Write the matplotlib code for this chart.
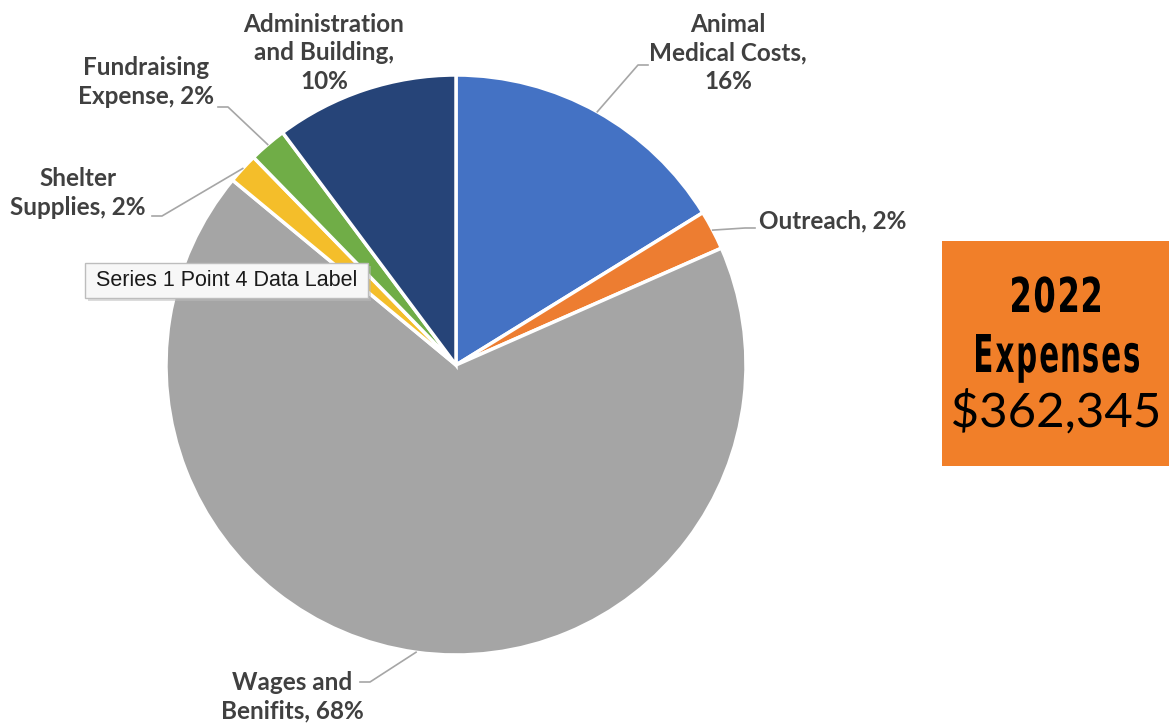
import numpy as np
import matplotlib.pyplot as plt
from matplotlib.patches import Rectangle, PathPatch
from matplotlib.textpath import TextPath
from matplotlib.font_manager import FontProperties
from matplotlib.path import Path
from matplotlib.transforms import Affine2D

# Données (parts en %)
categories = ['Animal\nMedical Costs', 'Outreach', 'Wages and\nBenifits',
              'Shelter\nSupplies', 'Fundraising\nExpense', 'Administration\nand Building']
shares = [16.2, 2.2, 67.6, 1.7, 2.1, 10.2]
colors = ['#4472C4', '#ED7D31', '#A5A5A5', '#F4BE2A', '#70AD47', '#264478']
total_title = ['2022', 'Expenses']
total_amount = '$362,345'

W, H = 1169, 727
fig = plt.figure(figsize=(W / 100, H / 100), dpi=100)
ax = fig.add_axes([0, 0, 1, 1])

cx, cy, r = 456, H - 365, 290
wedges, _ = ax.pie(shares, colors=colors, startangle=90, counterclock=False,
                   center=(cx, cy), radius=r, frame=True,
                   wedgeprops=dict(edgecolor='white', linewidth=2.5))
ax.set_xlim(0, W)
ax.set_ylim(0, H)
ax.set_aspect('equal')
ax.axis('off')

# Étiquettes : centre du texte, coude de la ligne
label_pos = [
    (728, H - 53, (648, H - 65)),
    (833, H - 221, (755, H - 228)),
    (292, H - 697, (360, H - 682)),
    (78, H - 193, (152, H - 216)),
    (146, H - 82, (218, H - 107)),
    (324, H - 53, None),
]
pct = [f"{round(s)}%" for s in shares]
for w, cat, p, (tx, ty, elbow) in zip(wedges, categories, pct, label_pos):
    if cat.split('\n')[0] in ('Animal', 'Administration'):
        txt = cat + ',\n' + p
    else:
        txt = cat + ', ' + p
    ax.text(tx, ty, txt, ha='center', va='center', fontsize=17.5, fontweight='bold',
            family='Lato', color='#404040', linespacing=1.3)
    if elbow is not None:
        ang = np.deg2rad((w.theta1 + w.theta2) / 2)
        x0 = cx + r * np.cos(ang)
        y0 = cy + r * np.sin(ang)
        ex, ey = elbow
        dx = 10 if ex < x0 else -10
        ax.plot([x0, ex + dx, ex], [y0, ey, ey], color='#A6A6A6', lw=1.2)

# Info-bulle
ax.add_patch(Rectangle((88, H - 301), 283, 35, facecolor='#BBBBBB',
                       edgecolor='none', alpha=0.5, zorder=4))
ax.add_patch(Rectangle((85, H - 298), 283, 35, facecolor='#F7F7F7',
                       edgecolor='#BDBDBD', lw=1, zorder=5))
ax.text(227, H - 281, 'Series 1 Point 4 Data Label', ha='center', va='center',
        fontsize=15.5, family='Liberation Sans', color='#1a1a1a', zorder=6)


def path_text(s, x0, x1, ybase, cap, fp, gap=None):
    # texte dessiné comme chemin, ajusté à une largeur et une hauteur données
    if gap is None:
        tp = TextPath((0, 0), s, size=1, prop=fp)
    else:
        x = 0
        parts = []
        for ch in s:
            p = TextPath((0, 0), ch, size=1, prop=fp)
            e = p.get_extents()
            parts.append(p.transformed(Affine2D().translate(x - e.x0, 0)))
            x += e.width + gap
        tp = Path.make_compound_path(*parts)
    e = tp.get_extents()
    capref = TextPath((0, 0), 'H', size=1, prop=fp).get_extents().height
    sx = (x1 - x0) / e.width
    sy = cap / capref
    tr = Affine2D().translate(-e.x0, 0).scale(sx, sy).translate(x0, ybase)
    ax.add_patch(PathPatch(tr.transform_path(tp), facecolor='black',
                           edgecolor='none', zorder=4))


# Encadré orange
ax.add_patch(Rectangle((942, H - 466), 240, 225, facecolor='#F17F29',
                       edgecolor='none', zorder=3))
bold_fp = FontProperties(family='DejaVu Sans', weight='bold')
light_fp = FontProperties(family='Lato', weight='normal')
path_text(total_title[0], 1012, 1100, H - 312, 35, bold_fp, gap=0.18)
path_text(total_title[1], 976, 1139, H - 372, 38, bold_fp, gap=0.16)
path_text(total_amount, 953, 1158, H - 427, 34, light_fp)

fig.savefig('out.png', dpi=100)
